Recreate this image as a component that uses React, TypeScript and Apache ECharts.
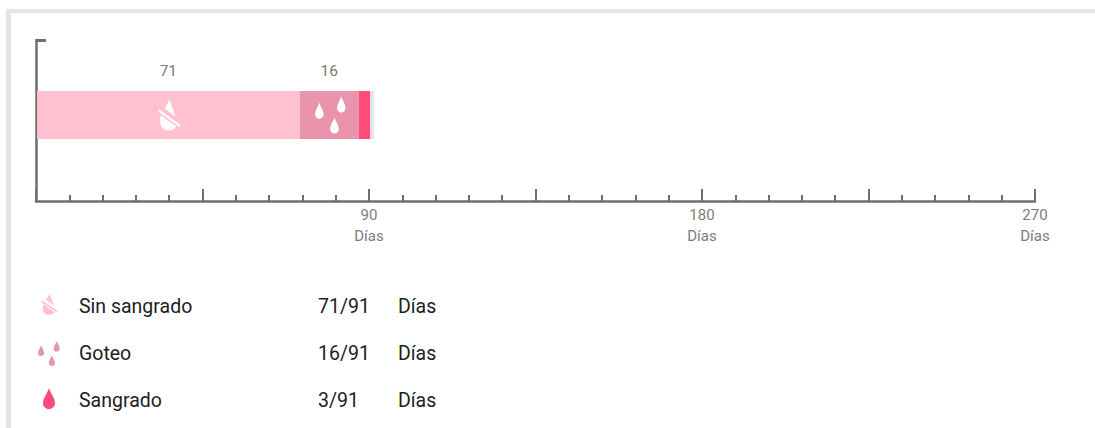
import React, { useEffect, useRef } from "react";
import * as echarts from "echarts";

const segmentNames = ["Sin sangrado", "Goteo", "Sangrado", "Sin datos"];
const segmentDays = [71, 16, 3, 1];
const segmentColors = ["#ffc0cf", "#e994ac", "#ff4b77", "#e4e4e4"];
const labelledSegments = [true, true, false, false];
const axisMax = 270;
const majorStep = 45;
const labelledTicks = [90, 180, 270];
const unit = "Días";

const noBleedPath =
  "M11.5 0L17.5 17L7 9ZM0.3 11.7L2 10L22.5 25.5L21.5 27.5ZM3 15.5L18.5 27C16 30 13.5 30.7 10.5 30.7C6 30.7 2.5 27 2.5 22C2.5 19 2.7 17 3 15.5Z";
const teardrop = (x: number, y: number) =>
  `M${x + 4.2} ${y}C${x + 5.4} ${y + 4} ${x + 8.5} ${y + 7.5} ${x + 8.5} ${y + 11.4}C${x + 8.5} ${y + 14} ${x + 6.5} ${y + 16} ${x + 4.2} ${y + 16}C${x + 2} ${y + 16} ${x} ${y + 14} ${x} ${y + 11.4}C${x} ${y + 7.5} ${x + 3} ${y + 4} ${x + 4.2} ${y}Z`;
const dripPath = teardrop(0, 6.3) + teardrop(21.7, 0) + teardrop(15, 21);
const dropPath = "M6 0C7.5 5 12 10 12 15C12 18.5 9.3 21 6 21C2.7 21 0 18.5 0 15C0 10 4.5 5 6 0Z";

const legendNames = ["Sin sangrado", "Goteo", "Sangrado"];
const legendCounts = ["71/91", "16/91", "3/91"];
const legendShapes = ["noBleed", "drip", "drop"];
const legendColors = ["#ffc0cf", "#e994ac", "#ff4b77"];

echarts.graphic.registerShape("noBleed", echarts.graphic.extendPath(noBleedPath, {}) as any);
echarts.graphic.registerShape("drip", echarts.graphic.extendPath(dripPath, {}) as any);
echarts.graphic.registerShape("drop", echarts.graphic.extendPath(dropPath, {}) as any);

const FONT = "Roboto";
const AXIS_COLOR = "#6e6e6e";

export default function App() {
  const ref = useRef<HTMLDivElement>(null);
  useEffect(() => {
    const chart = echarts.init(ref.current!, undefined, { renderer: "svg" });
    const cat = "periodo";
    const bars = segmentDays.map((v, i) => ({
      type: "bar" as const,
      name: segmentNames[i],
      stack: "total",
      xAxisIndex: 1,
      yAxisIndex: 1,
      barWidth: "100%",
      data: [v],
      itemStyle: { color: segmentColors[i] },
      label: {
        show: labelledSegments[i],
        position: "top" as const,
        distance: 12,
        color: "#7a7a7a",
        fontFamily: FONT,
        fontSize: 15.5,
      },
    }));
    const iconSeries = [
      { center: segmentDays[0] / 2, symbol: "path://" + noBleedPath, size: [23, 31], offset: [1, 0] },
      { center: segmentDays[0] + segmentDays[1] / 2, symbol: "path://" + dripPath, size: [30.5, 37], offset: [1, 0] },
    ].map((s) => ({
      type: "scatter" as const,
      xAxisIndex: 1,
      yAxisIndex: 1,
      z: 5,
      silent: true,
      symbol: s.symbol,
      symbolSize: s.size,
      symbolOffset: s.offset,
      symbolKeepAspect: false,
      itemStyle: { color: "#ffffff", opacity: 1 },
      data: [[s.center, cat]],
    }));

    const legend = legendNames.flatMap((name, i) => {
      const y = [306, 353, 400][i];
      const icon = [
        { x: 41, y: 294, sx: 17 / 23, sy: 21 / 31 },
        { x: 38, y: 341, sx: 22 / 30.5, sy: 25 / 37 },
        { x: 43, y: 388, sx: 1, sy: 1 },
      ][i];
      const text = (x: number, t: string) => ({
        type: "text",
        x,
        y,
        style: { text: t, fontFamily: FONT, fontSize: 19.5, fill: "#212121", verticalAlign: "middle", align: "left" },
      });
      return [
        {
          type: legendShapes[i],
          x: icon.x,
          y: icon.y,
          scaleX: icon.sx,
          scaleY: icon.sy,
          style: { fill: legendColors[i] },
        },
        text(79, name),
        text(318, legendCounts[i]),
        text(398, unit),
      ];
    });

    chart.setOption({
      animation: false,
      backgroundColor: "#ffffff",
      grid: [
        { left: 36, width: 999, top: 40, height: 161 },
        { left: 37, width: 999, top: 91, height: 48 },
      ],
      xAxis: [
        {
          type: "value",
          gridIndex: 0,
          min: 0,
          max: axisMax,
          interval: majorStep,
          splitLine: { show: false },
          axisLine: { show: true, lineStyle: { color: AXIS_COLOR, width: 2.5 } },
          axisTick: { show: true, inside: true, length: 12, lineStyle: { color: AXIS_COLOR, width: 2 } },
          minorTick: { show: true, splitNumber: 5, length: 6, lineStyle: { color: AXIS_COLOR, width: 2 } },
          minorSplitLine: { show: false },
          axisLabel: {
            show: true,
            showMinLabel: false,
            showMaxLabel: true,
            hideOverlap: false,
            alignMinLabel: "center",
            alignMaxLabel: "center",
            color: "#7d7d7d",
            fontFamily: FONT,
            fontSize: 15,
            lineHeight: 21,
            margin: 3,
            formatter: (v: number) => (labelledTicks.includes(v) ? `${v}\n${unit}` : ""),
          },
        },
        { type: "value", gridIndex: 1, min: 0, max: axisMax, show: false },
      ],
      yAxis: [
        {
          type: "value",
          gridIndex: 0,
          min: 0,
          max: 1,
          interval: 1,
          splitLine: { show: false },
          axisLine: { show: true, lineStyle: { color: AXIS_COLOR, width: 2.5 } },
          axisTick: { show: true, inside: true, length: 10, customValues: [1], lineStyle: { color: AXIS_COLOR, width: 3 } },
          axisLabel: { show: false },
        },
        { type: "category", gridIndex: 1, data: [cat], show: false },
      ],
      series: [...bars, ...iconSeries],
      graphic: [
        { type: "rect", shape: { x: 6, y: 9, width: 5, height: 419 }, style: { fill: "#e4e4e4" } },
        { type: "rect", shape: { x: 6, y: 9, width: 1089, height: 4 }, style: { fill: "#e4e4e4" } },
        ...legend,
      ],
    });
    return () => chart.dispose();
  }, []);
  return <div ref={ref} style={{ position: "absolute", left: 0, top: 0, width: 1095, height: 428 }} />;
}
